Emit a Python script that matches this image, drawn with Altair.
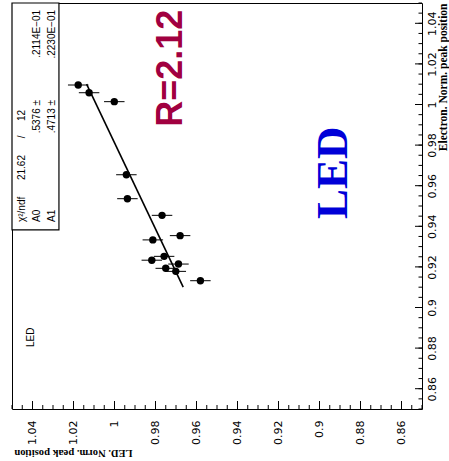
import altair as alt
import pandas as pd

# ---- data (LED vs Electron normalised peak positions) ----
electron = [1.0096, 1.0058, 1.0014, 0.9654, 0.9536, 0.9454, 0.9354,
            0.9333, 0.9252, 0.9233, 0.9214, 0.9193, 0.9178, 0.9132]
led = [1.0177, 1.0124, 1.0001, 0.9942, 0.9937, 0.9768, 0.9680,
       0.9813, 0.9758, 0.9818, 0.9688, 0.9750, 0.9701, 0.9581]
led_err = [0.005, 0.005, 0.005, 0.005, 0.005, 0.005, 0.005,
           0.005, 0.005, 0.005, 0.005, 0.005, 0.005, 0.005]

fit_a0 = 0.5376
fit_a1 = 0.4713
fit_range = [0.910, 1.010]

major_ticks = [0.86, 0.88, 0.90, 0.92, 0.94, 0.96, 0.98, 1.00, 1.02, 1.04]
minor_ticks = [round(0.85 + 0.005 * i, 3) for i in range(41)]

# annotation texts (positions in data coordinates: led, electron)
stat_labels = ["χ²/ndf", "A0", "A1"]
stat_values = ["21.62", ".5376 ±", ".4713 ±"]
stat_errors = ["12", ".2114E−01", ".2230E−01"]

W, H = 410, 406
xs = alt.Scale(domain=[0.85, 1.05], reverse=True, nice=False, zero=False)
ys = alt.Scale(domain=[0.85, 1.05], nice=False, zero=False)

df = pd.DataFrame({"led": led, "electron": electron, "err": led_err})
df["lo"] = df["led"] - df["err"]
df["hi"] = df["led"] + df["err"]

fit_df = pd.DataFrame({"electron": fit_range,
                       "led": [fit_a0 + fit_a1 * e for e in fit_range]})

xaxis = alt.Axis(values=major_ticks, format=".2~f", orient="bottom",
                 labelAngle=270, labelAlign="right", labelBaseline="middle",
                 labelPadding=11, labelFont="DejaVu Sans", labelFontSize=11,
                 labelColor="black", labelFlush=False, labelOverlap=False,
                 ticks=False, tickSize=0, domain=False, grid=False,
                 title="LED. Norm. peak position", titleFont="Liberation Serif",
                 titleFontWeight="bold", titleFontSize=10.5, titleColor="black",
                 titleAngle=180, titleAlign="left", titleBaseline="alphabetic",
                 titleX=120, titleY=40)

yaxis = alt.Axis(values=major_ticks, format=".2~f", orient="right",
                 labelAngle=270, labelAlign="center", labelBaseline="top",
                 labelPadding=4, labelFont="DejaVu Sans", labelFontSize=11,
                 labelColor="black", labelFlush=False, labelOverlap=False,
                 ticks=False, tickSize=0, domain=False, grid=False,
                 title="Electron. Norm. peak position", titleFont="Liberation Serif",
                 titleFontWeight="bold", titleFontSize=11.5, titleColor="black",
                 titleAngle=270, titleAlign="right", titleBaseline="alphabetic",
                 titleX=24, titleY=0)


def X(field):
    return alt.X(field, scale=xs, axis=xaxis)


def Y(field):
    return alt.Y(field, scale=ys, axis=yaxis)


# stat box
box_df = pd.DataFrame({"x1": [1.05], "x2": [1.0271], "y1": [1.05], "y2": [0.9382]})
box = alt.Chart(box_df).mark_rect(fill="white", stroke="black", strokeWidth=1.2).encode(
    x=X("x1:Q"), x2="x2:Q", y=Y("y1:Q"), y2="y2:Q")

stat_x = [1.0437, 1.0363, 1.0290]
lab_df = pd.DataFrame({"x": stat_x, "y": [0.9421] * 3, "t": stat_labels})
val_df = pd.DataFrame({"x": stat_x, "y": [0.9751, 1.0022, 1.0022], "t": stat_values})
err_df = pd.DataFrame({"x": stat_x, "y": [0.9973, 1.0466, 1.0466], "t": stat_errors})
slash_df = pd.DataFrame({"x": [stat_x[0]], "y": [0.9840], "t": ["/"]})


def stat_text(d, align):
    return alt.Chart(d).mark_text(angle=270, align=align, baseline="alphabetic",
                                  font="Liberation Sans", fontSize=10, color="black").encode(
        x=X("x:Q"), y=Y("y:Q"), text="t:N")


errbars = alt.Chart(df).mark_rule(color="black", strokeWidth=1).encode(
    x=X("lo:Q"), x2="hi:Q", y=Y("electron:Q"))

points = alt.Chart(df).mark_circle(size=55, color="black", opacity=1).encode(
    x=X("led:Q"), y=Y("electron:Q"))

fit = alt.Chart(fit_df).mark_line(color="black", strokeWidth=1.6).encode(
    x=X("led:Q"), y=Y("electron:Q"), order="electron:Q")

r_df = pd.DataFrame({"x": [0.967], "y": [0.989], "t": ["R=2.12"]})
r_text = alt.Chart(r_df).mark_text(angle=270, align="left", baseline="alphabetic",
                                   font="Liberation Sans", fontWeight="bold",
                                   fontSize=36, color="#a10040").encode(
    x=X("x:Q"), y=Y("y:Q"), text="t:N")

led_df = pd.DataFrame({"x": [0.8865], "y": [0.9436], "t": ["LED"]})
led_text = alt.Chart(led_df).mark_text(angle=270, align="left", baseline="alphabetic",
                                       font="Liberation Serif", fontWeight="bold",
                                       fontSize=45, color="#0000d8").encode(
    x=X("x:Q"), y=Y("y:Q"), text="t:N")

small_df = pd.DataFrame({"x": [1.0393], "y": [0.8805], "t": ["LED"]})
small_text = alt.Chart(small_df).mark_text(angle=270, align="left", baseline="alphabetic",
                                           font="Liberation Sans", fontSize=10,
                                           color="black").encode(
    x=X("x:Q"), y=Y("y:Q"), text="t:N")

# inward tick marks (ROOT style)
maj_df = pd.DataFrame({"v": major_ticks})
min_df = pd.DataFrame({"v": minor_ticks})
bx_major = alt.Chart(maj_df).mark_rule(color="black", strokeWidth=1).encode(
    x=X("v:Q"), y=alt.value(H), y2=alt.value(H - 8))
bx_minor = alt.Chart(min_df).mark_rule(color="black", strokeWidth=1).encode(
    x=X("v:Q"), y=alt.value(H), y2=alt.value(H - 4))
ry_major = alt.Chart(maj_df).mark_rule(color="black", strokeWidth=1).encode(
    y=Y("v:Q"), x=alt.value(W), x2=alt.value(W - 7))
ry_minor = alt.Chart(min_df).mark_rule(color="black", strokeWidth=1).encode(
    y=Y("v:Q"), x=alt.value(W), x2=alt.value(W - 3.5))

chart = alt.layer(
    points, errbars, fit, box,
    stat_text(lab_df, "left"), stat_text(val_df, "right"),
    stat_text(err_df, "right"), stat_text(slash_df, "center"),
    r_text, led_text, small_text,
    bx_major, bx_minor, ry_major, ry_minor,
).properties(
    width=W, height=H,
    padding={"left": 12, "top": 3, "right": 27, "bottom": 52},
    autosize=alt.AutoSizeParams(type="none"),
).configure_view(stroke="black", strokeWidth=1)

chart.save("out.html", embed_options={"renderer": "svg", "actions": False})
